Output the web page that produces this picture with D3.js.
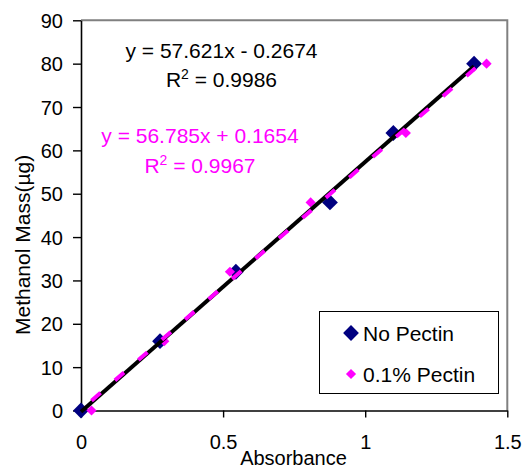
<!DOCTYPE html>
<html>
<head>
<meta charset="utf-8">
<script src="https://cdn.jsdelivr.net/npm/d3@7"></script>
<style>
	body { margin: 0; background: #fff; }
	svg { display: block; font-family: "Liberation Sans", Arial, sans-serif; }
	.axis text { font-size: 20px; fill: #000; }
</style>
</head>
<body>
<div id="chart"></div>
<script>
/* Methanol calibration: absorbance vs methanol mass */

var massNoPectin = [0, 16, 32, 48, 64, 80];
var absNoPectin = [0, 0.278, 0.545, 0.876, 1.099, 1.383];
var massPectin = [0, 16, 32, 48, 64, 80];
var absPectin = [0.037, 0.293, 0.524, 0.808, 1.143, 1.427];

var fitNoPectin = { slope: 57.621, intercept: -0.2674, r2: "0.9986", text: "y = 57.621x - 0.2674" };
var fitPectin = { slope: 56.785, intercept: 0.1654, r2: "0.9967", text: "y = 56.785x + 0.1654" };

var xTicks = [0, 0.5, 1, 1.5];
var yTicks = [0, 10, 20, 30, 40, 50, 60, 70, 80, 90];
var seriesNames = ["No Pectin", "0.1% Pectin"];

var width = 522, height = 469;
var margin = { top: 20.3, right: 14.7, bottom: 58.5, left: 81 };

var svg = d3.select("#chart").append("svg")
	.attr("width", width)
	.attr("height", height);

var x = d3.scaleLinear().domain([0, 1.5]).range([margin.left, width - margin.right]);
var y = d3.scaleLinear().domain([0, 90]).range([height - margin.bottom, margin.top]);

// plot frame: grey top and right
svg.append("path")
	.attr("d", "M" + x(0) + "," + y(90) + "H" + x(1.5) + "V" + y(0))
	.attr("fill", "none")
	.attr("stroke", "#808080")
	.attr("stroke-width", 2);

/* axes */
var yAxis = svg.append("g").attr("class", "axis")
	.attr("transform", "translate(" + x(0) + ",0)")
	.call(d3.axisLeft(y).tickValues(yTicks).tickSizeInner(8).tickSizeOuter(0).tickPadding(10));
var xAxis = svg.append("g").attr("class", "axis")
	.attr("transform", "translate(0," + y(0) + ")")
	.call(d3.axisBottom(x).tickValues(xTicks).tickFormat(d3.format("")).tickSizeInner(7).tickSizeOuter(0).tickPadding(17));
svg.selectAll(".axis .domain").attr("stroke", "#000").attr("stroke-width", 1.6);
svg.selectAll(".axis .tick line").attr("stroke", "#000").attr("stroke-width", 1.4);
yAxis.selectAll("text").attr("dy", "0.36em");

svg.append("text")
	.attr("x", 293.5).attr("y", 465)
	.attr("text-anchor", "middle")
	.style("font-size", "20px")
	.text("Absorbance");

svg.append("text")
	.attr("transform", "translate(30,335) rotate(-90)")
	.attr("text-anchor", "start")
	.style("font-size", "21px")
	.text("Methanol Mass(µg)");

/* markers */
function diamond(size) {
	return d3.symbol().type(d3.symbolSquare).size(size)();
}

var noPectinPts = absNoPectin.map(function(a, i) { return { x: a, y: massNoPectin[i] }; });
var pectinPts = absPectin.map(function(a, i) { return { x: a, y: massPectin[i] }; });

svg.append("g").selectAll("path")
	.data(noPectinPts)
	.enter().append("path")
	.attr("d", diamond(125))
	.attr("fill", "#000080")
	.attr("transform", function(d) { return "translate(" + x(d.x) + "," + y(d.y) + ") rotate(45)"; });

svg.append("g").selectAll("path")
	.data(pectinPts)
	.enter().append("path")
	.attr("d", diamond(52))
	.attr("fill", "#ff00ff")
	.attr("transform", function(d) { return "translate(" + x(d.x) + "," + y(d.y) + ") rotate(45)"; });

/* trend lines */
var line = d3.line().x(function(d) { return x(d[0]); }).y(function(d) { return y(d[1]); });
function fitLine(fit, xs) {
	var lo = d3.min(xs), hi = d3.max(xs);
	return [[lo, fit.slope * lo + fit.intercept], [hi, fit.slope * hi + fit.intercept]];
}

svg.append("path")
	.attr("d", line(fitLine(fitNoPectin, absNoPectin)))
	.attr("stroke", "#000")
	.attr("stroke-width", 4)
	.attr("fill", "none");

svg.append("path")
	.attr("d", line(fitLine(fitPectin, absPectin)))
	.attr("stroke", "#ff00ff")
	.attr("stroke-width", 4)
	.attr("stroke-dasharray", "12,19")
	.attr("fill", "none");

/* equations */
function equation(fit, cx, by, color) {
	var g = svg.append("g").style("font-size", "21px").attr("fill", color);
	g.append("text").attr("x", cx).attr("y", by).attr("text-anchor", "middle").text(fit.text);
	var t = g.append("text").attr("x", cx).attr("y", by + 29.5).attr("text-anchor", "middle");
	t.append("tspan").text("R");
	t.append("tspan").attr("dy", -8).style("font-size", "14px").text("2");
	t.append("tspan").attr("dy", 8).text(" = " + fit.r2);
}
equation(fitNoPectin, 221.5, 57.5, "#000");
equation(fitPectin, 200, 143, "#ff00ff");

/* legend */
var legend = svg.append("g");
legend.append("rect")
	.attr("x", 319.5).attr("y", 311.5)
	.attr("width", 179).attr("height", 82)
	.attr("fill", "#fff")
	.attr("stroke", "#000")
	.attr("stroke-width", 1);

var legendColors = ["#000080", "#ff00ff"];
var legendSizes = [125, 52];
var legendY = [333, 374];
seriesNames.forEach(function(name, i) {
	legend.append("path")
		.attr("d", diamond(legendSizes[i]))
		.attr("fill", legendColors[i])
		.attr("transform", "translate(351," + legendY[i] + ") rotate(45)");
	legend.append("text")
		.attr("x", 363).attr("y", legendY[i])
		.attr("dy", "0.36em")
		.style("font-size", "21px")
		.text(name);
});
</script>
</body>
</html>
